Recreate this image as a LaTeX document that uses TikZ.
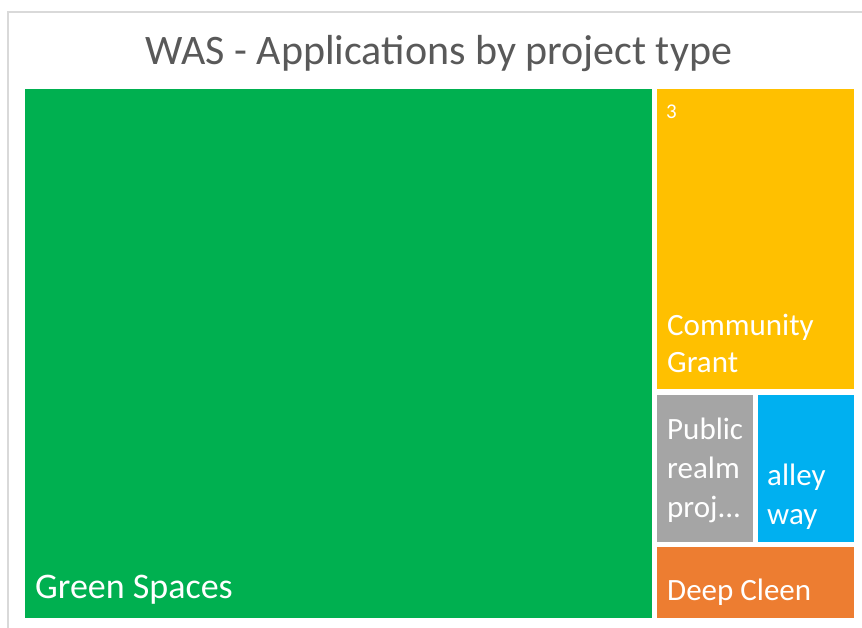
\documentclass[tikz,border=0pt]{standalone}
\usepackage{fontspec}
\setmainfont{Carlito}
\definecolor{grn}{HTML}{00B050}
\definecolor{ylw}{HTML}{FFC000}
\definecolor{gry}{HTML}{A5A5A5}
\definecolor{blu}{HTML}{00B0F0}
\definecolor{orn}{HTML}{ED7D31}
\definecolor{ttl}{HTML}{595959}
\definecolor{frm}{HTML}{D9D9D9}
\tikzset{
  tile/.style = {rectangle, inner sep=0pt, outer sep=0pt, draw=none,
    anchor=north west},
  lbl/.style = {inner sep=0pt, anchor=base west, text=white, align=left,
    font=\fontsize{31}{38}\selectfont},
  ttl_n/.style = {inner sep=0pt, anchor=base, text=ttl,
    font=\fontsize{42}{50}\selectfont}
}
\begin{document}
\begin{tikzpicture}[x=1pt,y=-1pt]
\useasboundingbox (0,0) rectangle (862,628);
\draw[frm, line width=1.5pt] (880,12) -- (8,12) -- (8,650);
\node [ttl_n] (title) at (439,65) {WAS - Applications by project type};
% tiles
\node [tile, fill=grn, minimum width=627pt, minimum height=529pt] (green) at (25,89) {};
\node [tile, fill=ylw, minimum width=197pt, minimum height=300pt] (grant) at (657,89) {};
\node [tile, fill=gry, minimum width=96pt, minimum height=147pt] (public) at (657,395) {};
\node [tile, fill=blu, minimum width=96pt, minimum height=147pt] (alley) at (758,395) {};
\node [tile, fill=orn, minimum width=197pt, minimum height=71pt] (deep) at (657,547) {};
% labels (base = last line)
\node [lbl, font=\fontsize{36}{42}\selectfont] (green_l) at (35,598) {Green Spaces};
\node [lbl, font=\fontsize{21}{24}\selectfont] (grant_n) at (666,119) {3};
\node [lbl, font=\fontsize{31}{37}\selectfont] (grant_l) at (667,372) {Community\\Grant};
\node [lbl, font=\fontsize{31}{39}\selectfont] (public_l) at (667,517) {Public\\realm\\proj...};
\node [lbl, font=\fontsize{31}{39}\selectfont] (alley_l) at (767,524) {alley\\way};
\node [lbl] (deep_l) at (667,600) {Deep Cleen};
\end{tikzpicture}
\end{document}
